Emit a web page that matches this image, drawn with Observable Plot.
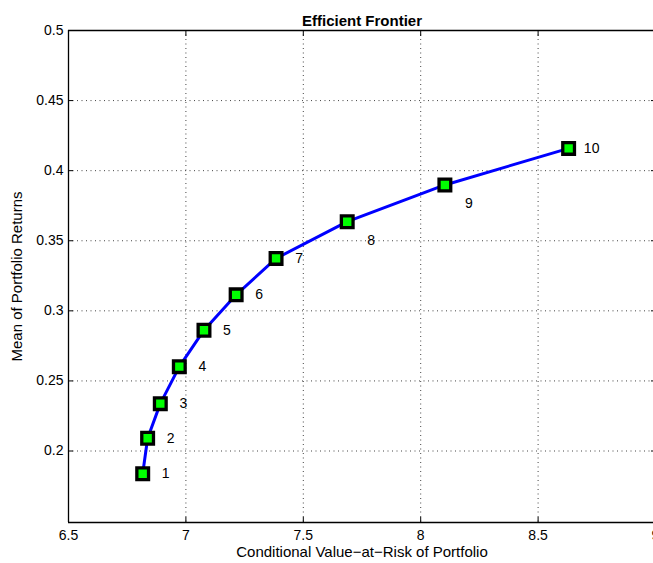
<!DOCTYPE html>
<html>
<head>
<meta charset="utf-8">
<script src="https://cdn.jsdelivr.net/npm/d3@7"></script>
<script src="https://cdn.jsdelivr.net/npm/@observablehq/plot@0.6"></script>
<style>
  html, body { margin: 0; padding: 0; background: #fff; overflow: hidden; }
  #chart svg { display: block; }
</style>
</head>
<body>
<div id="chart"></div>
<script>
const portfolio = [1, 2, 3, 4, 5, 6, 7, 8, 9, 10];
const cvar = [6.816, 6.837, 6.891, 6.972, 7.077, 7.214, 7.384, 7.687, 8.103, 8.630];
const meanReturn = [0.1838, 0.2091, 0.2338, 0.2602, 0.2862, 0.3114, 0.3374, 0.3636, 0.3898, 0.4159];
const xTicks = [6.5, 7, 7.5, 8, 8.5, 9];
const yTicks = [0.2, 0.25, 0.3, 0.35, 0.4, 0.45, 0.5];
const xDomain = [6.5, 9];
const yDomain = [0.149, 0.5];
const title = "Efficient Frontier";
const xLabel = "Conditional Value\u2212at\u2212Risk of Portfolio";
const yLabel = "Mean of Portfolio Returns";
const belowLabels = [8, 9];

const data = portfolio.map((p, i) => ({p, x: cvar[i], y: meanReturn[i], label: String(p)}));
const font = "'Liberation Sans', Arial, Helvetica, sans-serif";
const fmt = d => String(d);

const chart = Plot.plot({
  width: 653,
  height: 563,
  marginLeft: 68,
  marginRight: -2,
  marginTop: 30,
  marginBottom: 41,
  style: {fontFamily: font, fontSize: "14px", color: "#000", background: "#fff"},
  x: {domain: xDomain},
  y: {domain: yDomain},
  marks: [
    Plot.ruleX(xTicks.slice(1, -1), {stroke: "#444", strokeDasharray: "1,3.5", strokeWidth: 1}),
    Plot.ruleY(yTicks.slice(0, -1), {stroke: "#444", strokeDasharray: "1,3.5", strokeWidth: 1}),
    Plot.ruleX(xDomain, {stroke: "#000", strokeWidth: 1.3}),
    Plot.ruleY(yDomain, {stroke: "#000", strokeWidth: 1.3}),
    Plot.axisX({anchor: "bottom", ticks: xTicks, tickFormat: fmt, tickSize: -5, tickPadding: 13,
      fontSize: 14, label: null}),
    Plot.axisX({anchor: "bottom", ticks: [], label: xLabel, labelAnchor: "center", labelArrow: "none",
      labelOffset: 34, fontSize: 15}),
    Plot.axisX({anchor: "top", ticks: xTicks, tickFormat: () => "", tickSize: -5, label: null}),
    Plot.axisY({anchor: "left", ticks: yTicks, tickFormat: fmt, tickSize: -5, tickPadding: 10,
      fontSize: 14, label: null}),
    Plot.axisY({anchor: "left", ticks: [], label: yLabel, labelAnchor: "center", labelArrow: "none",
      labelOffset: 57, fontSize: 15}),
    Plot.axisY({anchor: "right", ticks: yTicks, tickFormat: () => "", tickSize: -5, label: null}),
    Plot.line(data, {x: "x", y: "y", stroke: "#0000ff", strokeWidth: 3}),
    Plot.dot(data, {x: "x", y: "y", symbol: "square", r: 6.6, fill: "#00ff00", stroke: "#000", strokeWidth: 3.3}),
    Plot.text(data.filter(d => !belowLabels.includes(d.p)), {x: "x", y: "y", text: "label", dx: 23, fontSize: 14}),
    Plot.text(data.filter(d => belowLabels.includes(d.p)), {x: "x", y: "y", text: "label", dx: 24, dy: 19, fontSize: 14}),
    Plot.text([title], {frameAnchor: "top", dy: -15, fontWeight: "bold", fontSize: 15})
  ]
});
document.getElementById("chart").append(chart);
</script>
</body>
</html>
